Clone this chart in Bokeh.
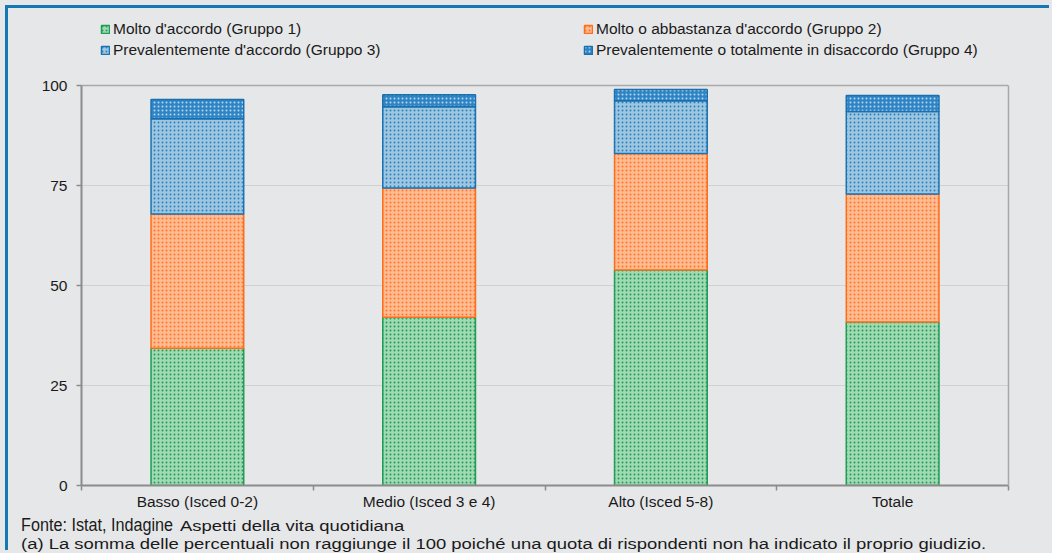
from bokeh.plotting import figure
from bokeh.models import (ColumnDataSource, Range1d, FixedTicker, Legend, LegendItem, Div,
                          LinearAxis, Grid)
from bokeh.layouts import column
from bokeh.embed import file_html
from bokeh.resources import INLINE

categories = ["Basso (Isced 0-2)", "Medio (Isced 3 e 4)", "Alto (Isced 5-8)", "Totale"]
gruppo1 = [34.3, 42.1, 53.9, 40.9]
gruppo2 = [33.6, 32.3, 29.1, 32.0]
gruppo3 = [23.8, 20.3, 13.2, 20.6]
gruppo4 = [4.8, 3.0, 2.8, 4.0]
series_names = ["Molto d'accordo (Gruppo 1)", "Molto o abbastanza d'accordo (Gruppo 2)",
                "Prevalentemente d'accordo (Gruppo 3)",
                "Prevalentemente o totalmente in disaccordo (Gruppo 4)"]
y_ticks = [0, 25, 50, 75, 100]
fonte_text = "Fonte: Istat, Indagine"
fonte_title = "Aspetti della vita quotidiana"
note_text = ("(a) La somma delle percentuali non raggiunge il 100 poiché una quota di "
             "rispondenti non ha indicato il proprio giudizio.")

xpos = [i + 0.5 for i in range(len(categories))]
src = ColumnDataSource(dict(x=xpos, g1=gruppo1, g2=gruppo2, g3=gruppo3, g4=gruppo4))

BG = "#e6e7e9"
AX = "#8c8c8c"
W = 1044
FIG_H = 504
DIV_H = 41

# frame spans the legend area too; the value axis itself is bounded to 0..100
p = figure(width=W, height=FIG_H, output_backend="svg", toolbar_location=None,
           x_range=Range1d(0, len(categories)), y_range=Range1d(0, 119.27),
           background_fill_color=BG, border_fill_color=BG,
           min_border_left=73, min_border_right=44, min_border_top=0, min_border_bottom=27)
p.outline_line_color = None

fills = ["#a0d9b4", "#ffbc92", "#9ec6e0", "#2f84c4"]
hatches = ["#1f9e52", "#ff7226", "#2a84c2", "#b5d8ef"]
lines = ["#1f9d55", "#ff6d1a", "#1c73b4", "#1a6fb0"]
rs = p.vbar_stack(["g1", "g2", "g3", "g4"], x="x", width=0.4, source=src,
                  fill_color=fills, line_color=lines, line_width=1.5,
                  hatch_pattern=["dot", "dot", "dot", "dot"], hatch_color=hatches,
                  hatch_scale=4, hatch_weight=1.5)

# x axis: labels at category centres, tick marks at category boundaries
xa = p.xaxis[0]
xa.ticker = FixedTicker(ticks=xpos, minor_ticks=list(range(len(categories) + 1)))
xa.major_label_overrides = {x: c for x, c in zip(xpos, categories)}
xa.major_tick_line_color = None
xa.major_tick_out = 0
xa.major_tick_in = 0
xa.minor_tick_in = 0
xa.minor_tick_out = 5
xa.minor_tick_line_color = AX
xa.minor_tick_line_width = 1.5
xa.axis_line_color = AX
xa.axis_line_width = 2
xa.major_label_standoff = 2
xa.major_label_text_font = "Liberation Sans"
xa.major_label_text_font_size = "15.5px"
xa.major_label_text_color = "#1a1a1a"

ya = p.yaxis[0]
ya.ticker = FixedTicker(ticks=y_ticks)
ya.bounds = (0, 100)
ya.minor_tick_line_color = None
ya.major_tick_in = 0
ya.major_tick_out = 5
ya.major_tick_line_color = AX
ya.major_tick_line_width = 1.5
ya.axis_line_color = AX
ya.axis_line_width = 2
ya.major_label_standoff = 9
ya.major_label_text_font = "Liberation Sans"
ya.major_label_text_font_size = "15.5px"
ya.major_label_text_color = "#1a1a1a"

# right frame edge of the plot area
ra = LinearAxis(bounds=(0, 100), ticker=FixedTicker(ticks=[]),
                axis_line_color="#a9a9a9", axis_line_width=1.5,
                major_tick_line_color=None, minor_tick_line_color=None,
                major_label_text_font_size="0px")
p.add_layout(ra, "right")

p.xgrid.grid_line_color = None
p.ygrid.ticker = FixedTicker(ticks=y_ticks[1:-1])
p.ygrid.grid_line_color = "#d0d1d3"
p.ygrid.grid_line_width = 1
top_grid = Grid(dimension=1, ticker=FixedTicker(ticks=[y_ticks[-1]]),
                grid_line_color="#a9a9a9", grid_line_width=1.5)
p.add_layout(top_grid)

legend = Legend(items=[LegendItem(label=n, renderers=[r]) for n, r in zip(series_names, rs)],
                orientation="horizontal", ncols=2,
                location=(19, 425), padding=0, margin=0, spacing=0,
                glyph_width=10, glyph_height=10, label_standoff=3,
                label_width=470, label_height=21,
                label_text_font="Liberation Sans", label_text_font_size="15.5px",
                label_text_color="#1a1a1a",
                background_fill_alpha=0, border_line_color=None)
p.add_layout(legend)

footer_html = (
    '<div style="transform:scaleX(1.189);transform-origin:0 0;white-space:nowrap">'
    '<span style="display:inline-block;width:133.7px;line-height:18px">'
    '<span style="display:inline-block;font-size:17.5px;line-height:18px;white-space:nowrap;'
    'transform:scaleX(0.778);transform-origin:0 0">' + fonte_text + '</span></span>'
    '<span>' + fonte_title + '</span><br>' + note_text + '</div>'
)
div = Div(text=footer_html, width=W, height=DIV_H, margin=0,
          styles={"background-color": BG, "font-family": "'Liberation Sans', Arial, sans-serif",
                  "font-size": "15.5px", "line-height": "18px", "color": "#1a1a1a",
                  "padding-top": "4px", "padding-left": "13px", "box-sizing": "border-box",
                  "white-space": "nowrap", "overflow": "hidden"})

layout = column(p, div, spacing=0, margin=(8, 0, 0, 8),
                styles={"background-color": BG,
                        "box-shadow": "-3px -3px 0 0 #1478b4, 0 0 0 8px " + BG})

open("out.html", "w").write(file_html(layout, INLINE))
